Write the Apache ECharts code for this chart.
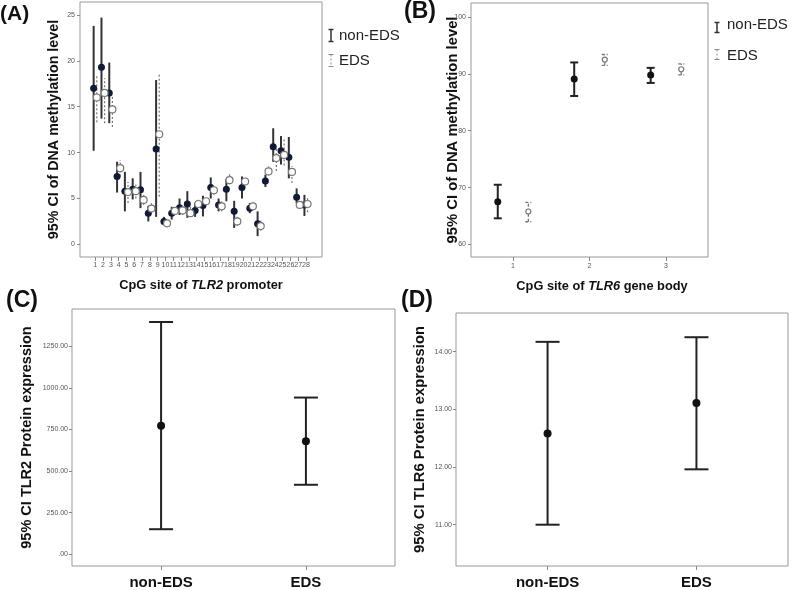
<!DOCTYPE html>
<html><head><meta charset="utf-8">
<script src="https://cdn.jsdelivr.net/npm/echarts@6/dist/echarts.min.js"></script>
<style>html,body{margin:0;padding:0;background:#fff}#c{width:800px;height:590px}</style>
</head><body><div id="c"></div>
<script>
// ---------- Panel A: CpG sites of TLR2 promoter ----------
const sitesA = [1,2,3,4,5,6,7,8,9,10,11,12,13,14,15,16,17,18,19,20,21,22,23,24,25,26,27,28];
const aNonMean = [17.0,19.3,16.5,7.4,5.8,6.0,5.95,3.4,10.4,2.5,3.4,4.0,4.4,3.7,4.25,6.2,4.3,6.0,3.6,6.2,3.95,2.25,6.9,10.65,10.2,9.5,5.15,4.3];
const aNonLow  = [10.2,13.7,13.2,5.65,3.6,4.9,3.95,2.5,3.0,2.1,2.7,3.2,2.9,3.0,3.05,5.0,3.6,4.7,1.8,5.0,3.4,0.9,6.25,9.0,8.7,7.2,4.5,3.1];
const aNonHigh = [23.8,24.7,19.8,9.0,7.9,7.2,7.9,4.2,17.9,3.0,4.1,5.0,5.8,4.5,5.3,7.3,5.0,7.1,4.75,7.4,4.5,3.6,7.6,12.65,11.8,11.7,6.1,5.4];
const aEdsMean = [16.0,16.5,14.7,8.3,5.7,5.8,4.85,3.9,12.0,2.3,3.65,3.7,3.4,4.4,4.7,5.9,4.15,7.0,2.5,6.85,4.15,2.0,7.95,9.4,9.75,7.9,4.3,4.4];
const aEdsLow  = [13.3,13.2,12.8,7.4,4.5,5.0,4.3,3.4,5.2,2.1,3.2,3.2,3.0,4.0,4.3,5.4,3.6,6.55,2.0,6.5,3.8,1.5,7.5,8.0,8.6,6.7,3.95,3.5];
const aEdsHigh = [18.5,18.1,16.3,9.2,6.8,6.6,5.4,4.5,18.6,2.5,3.95,4.2,4.1,4.9,5.0,6.3,4.7,7.65,3.0,7.3,4.7,2.6,8.5,10.6,11.6,8.5,4.8,5.2];
const ticksA = [0,5,10,15,20,25];

// ---------- Panel B: CpG sites of TLR6 gene body ----------
const sitesB = [1,2,3];
const bNonMean = [67.5,89.1,89.8];
const bNonLow  = [64.6,86.1,88.4];
const bNonHigh = [70.5,92.0,91.05];
const bEdsMean = [65.8,92.5,90.8];
const bEdsLow  = [64.0,91.5,89.8];
const bEdsHigh = [67.4,93.4,91.75];
const ticksB = [60,70,80,90,100];

// ---------- Panels C, D: protein expression ----------
const groups = ['non-EDS','EDS'];
const cMean = [773,679];
const cLow  = [151,418];
const cHigh = [1396,942];
const ticksC = [0,250,500,750,1000,1250];
const dMean = [12.58,13.11];
const dLow  = [11.0,11.96];
const dHigh = [14.17,14.25];
const ticksD = [11,12,13,14];

const FONT = 'Liberation Sans, Arial, sans-serif';
const OFF = 0.2;

function errRender(capHalf, style) {
  return function (params, api) {
    const x = api.value(0), lo = api.value(1), hi = api.value(2);
    const a = api.coord([x, lo]), b = api.coord([x, hi]);
    const ch = [{type:'line', shape:{x1:a[0],y1:a[1],x2:b[0],y2:b[1]}, style:style}];
    if (capHalf > 0) {
      ch.push({type:'line', shape:{x1:a[0]-capHalf,y1:a[1],x2:a[0]+capHalf,y2:a[1]}, style:style});
      ch.push({type:'line', shape:{x1:b[0]-capHalf,y1:b[1],x2:b[0]+capHalf,y2:b[1]}, style:style});
    }
    return {type:'group', children:ch};
  };
}
function zipErr(xs, lo, hi, off) { return xs.map((x,i)=>[x+off, lo[i], hi[i]]); }
function zipPt(xs, m, off) { return xs.map((x,i)=>[x+off, m[i]]); }

const tickLabel = {fontSize:7, color:'#555', fontFamily:FONT};
const nameStyle = {fontSize:13, fontWeight:'bold', color:'#111', fontFamily:FONT};
const gridBase = {show:true, borderColor:'#999', borderWidth:1, backgroundColor:'#fff'};

function yAx(gi, min, max, ticks, fmt, name, gap, margin, fs) {
  return {type:'value', gridIndex:gi, min:min, max:max,
    axisLine:{show:false, onZero:false}, splitLine:{show:false},
    axisTick:{show:true, customValues:ticks, length:3, lineStyle:{color:'#888'}},
    axisLabel:{customValues:ticks, formatter:fmt, margin:margin, ...tickLabel},
    name:name, nameLocation:'middle', nameRotate:90, nameGap:gap, nameMoveOverlap:false,
    nameTextStyle:{...nameStyle, fontSize:fs}};
}
function xAx(gi, min, max, ticks, lab, extra) {
  return Object.assign({type:'value', gridIndex:gi, min:min, max:max,
    axisLine:{show:false, onZero:false}, splitLine:{show:false},
    axisTick:{show:true, customValues:ticks, length:4, lineStyle:{color:'#888'}},
    axisLabel:Object.assign({customValues:ticks}, lab), nameMoveOverlap:false}, extra || {});
}
const richName = {rich:{b:{...nameStyle, fontSize:12.8}, i:{...nameStyle, fontSize:12.8, fontStyle:'italic'}}};
const groupLab = {formatter:v=>groups[v-1], margin:9, fontSize:15, fontWeight:'bold', color:'#111', fontFamily:FONT};
const titleStyle = fs => ({fontSize:fs, fontWeight:'bold', color:'#111', fontFamily:FONT});

const option = {
  animation:false,
  backgroundColor:'#fff',
  title:[
    {text:'(A)', left:0, top:4, padding:0, textStyle:titleStyle(21)},
    {text:'(B)', left:404, top:0, padding:0, textStyle:titleStyle(23)},
    {text:'(C)', left:6, top:289, padding:0, textStyle:titleStyle(23)},
    {text:'(D)', left:401, top:289, padding:0, textStyle:titleStyle(23)}
  ],
  grid:[
    {left:80, top:2, width:242, height:255, ...gridBase},
    {left:471, top:3, width:237, height:254, ...gridBase},
    {left:72, top:309, width:323, height:257, ...gridBase},
    {left:456, top:313, width:332, height:255, ...gridBase}
  ],
  xAxis:[
    xAx(0, -0.95, 30.05, sitesA, {margin:5, ...tickLabel},
      {name:'{b|CpG site of }{i|TLR2}{b| promoter}', nameLocation:'middle', nameGap:22, nameTextStyle:richName}),
    xAx(1, 0.45, 3.55, sitesB, {margin:6, ...tickLabel},
      {name:'{b|CpG site of }{i|TLR6}{b| gene body}', nameLocation:'middle', nameGap:23,
       nameTextStyle:{...richName, padding:[0,0,0,25]}}),
    xAx(2, 0.385, 2.615, [1,2], groupLab),
    xAx(3, 0.385, 2.615, [1,2], groupLab)
  ],
  yAxis:[
    yAx(0, -1.37, 26.4, ticksA, v=>String(v), '95% CI of DNA methylation level', 19, 5, 14.3),
    yAx(1, 57.8, 102.45, ticksB, v=>String(v), '95% CI of DNA methylation level', 11, 5, 14.8),
    yAx(2, -70, 1474, ticksC, v=>v===0?'.00':v.toFixed(2), '95% CI TLR2 Protein expression', 38, 4, 14.5),
    yAx(3, 10.284, 14.67, ticksD, v=>v.toFixed(2), '95% CI TLR6 Protein expression', 29, 4, 14.8)
  ],
  series:[
    // A
    {type:'custom', xAxisIndex:0, yAxisIndex:0, encode:{x:0,y:[1,2]}, z:2,
     renderItem:errRender(0, {stroke:'#333', lineWidth:2}), data:zipErr(sitesA,aNonLow,aNonHigh,-OFF)},
    {type:'custom', xAxisIndex:0, yAxisIndex:0, encode:{x:0,y:[1,2]}, z:2,
     renderItem:errRender(0, {stroke:'#777', lineWidth:1.2, lineDash:[2,2]}), data:zipErr(sitesA,aEdsLow,aEdsHigh,OFF)},
    {type:'scatter', xAxisIndex:0, yAxisIndex:0, z:3, symbol:'circle', symbolSize:7,
     itemStyle:{color:'#111a35', opacity:1}, data:zipPt(sitesA,aNonMean,-OFF)},
    {type:'scatter', xAxisIndex:0, yAxisIndex:0, z:3, symbol:'circle', symbolSize:7,
     itemStyle:{color:'#fff', borderColor:'#777', borderWidth:1.2, opacity:1}, data:zipPt(sitesA,aEdsMean,OFF)},
    // B
    {type:'custom', xAxisIndex:1, yAxisIndex:1, encode:{x:0,y:[1,2]}, z:2,
     renderItem:errRender(4, {stroke:'#222', lineWidth:2}), data:zipErr(sitesB,bNonLow,bNonHigh,-OFF)},
    {type:'custom', xAxisIndex:1, yAxisIndex:1, encode:{x:0,y:[1,2]}, z:2,
     renderItem:errRender(3, {stroke:'#777', lineWidth:1.3, lineDash:[3,2]}), data:zipErr(sitesB,bEdsLow,bEdsHigh,OFF)},
    {type:'scatter', xAxisIndex:1, yAxisIndex:1, z:3, symbol:'circle', symbolSize:7,
     itemStyle:{color:'#111', opacity:1}, data:zipPt(sitesB,bNonMean,-OFF)},
    {type:'scatter', xAxisIndex:1, yAxisIndex:1, z:3, symbol:'circle', symbolSize:5,
     itemStyle:{color:'#fff', borderColor:'#777', borderWidth:1.2, opacity:1}, data:zipPt(sitesB,bEdsMean,OFF)},
    // C
    {type:'custom', xAxisIndex:2, yAxisIndex:2, encode:{x:0,y:[1,2]}, z:2,
     renderItem:errRender(12, {stroke:'#222', lineWidth:2}), data:zipErr([1,2],cLow,cHigh,0)},
    {type:'scatter', xAxisIndex:2, yAxisIndex:2, z:3, symbol:'circle', symbolSize:8,
     itemStyle:{color:'#111', opacity:1}, data:zipPt([1,2],cMean,0)},
    // D
    {type:'custom', xAxisIndex:3, yAxisIndex:3, encode:{x:0,y:[1,2]}, z:2,
     renderItem:errRender(12, {stroke:'#222', lineWidth:2}), data:zipErr([1,2],dLow,dHigh,0)},
    {type:'scatter', xAxisIndex:3, yAxisIndex:3, z:3, symbol:'circle', symbolSize:8,
     itemStyle:{color:'#111', opacity:1}, data:zipPt([1,2],dMean,0)}
  ],
  graphic:[
    // Legend A
    {type:'group', left:326, top:27, children:[
      {type:'line', shape:{x1:3,y1:0,x2:3,y2:12}, style:{stroke:'#333', lineWidth:1.5}},
      {type:'line', shape:{x1:0.5,y1:0,x2:5.5,y2:0}, style:{stroke:'#333', lineWidth:1.5}},
      {type:'line', shape:{x1:0.5,y1:12,x2:5.5,y2:12}, style:{stroke:'#333', lineWidth:1.5}}
    ]},
    {type:'text', left:339, top:28, style:{text:'non-EDS', fontSize:15, fill:'#222', fontFamily:FONT}},
    {type:'group', left:326, top:52, children:[
      {type:'line', shape:{x1:3,y1:0,x2:3,y2:12}, style:{stroke:'#888', lineWidth:1, lineDash:[2,2]}},
      {type:'line', shape:{x1:0.5,y1:0,x2:5.5,y2:0}, style:{stroke:'#888', lineWidth:1}},
      {type:'line', shape:{x1:0.5,y1:12,x2:5.5,y2:12}, style:{stroke:'#888', lineWidth:1}}
    ]},
    {type:'text', left:339, top:53, style:{text:'EDS', fontSize:15, fill:'#222', fontFamily:FONT}},
    // Legend B
    {type:'group', left:712, top:20, children:[
      {type:'line', shape:{x1:3,y1:0,x2:3,y2:10}, style:{stroke:'#333', lineWidth:1.5}},
      {type:'line', shape:{x1:0.5,y1:0,x2:5.5,y2:0}, style:{stroke:'#333', lineWidth:1.5}},
      {type:'line', shape:{x1:0.5,y1:10,x2:5.5,y2:10}, style:{stroke:'#333', lineWidth:1.5}}
    ]},
    {type:'text', left:727, top:17, style:{text:'non-EDS', fontSize:15, fill:'#222', fontFamily:FONT}},
    {type:'group', left:712, top:47, children:[
      {type:'line', shape:{x1:3,y1:0,x2:3,y2:10}, style:{stroke:'#888', lineWidth:1, lineDash:[2,2]}},
      {type:'line', shape:{x1:0.5,y1:0,x2:5.5,y2:0}, style:{stroke:'#888', lineWidth:1}},
      {type:'line', shape:{x1:0.5,y1:10,x2:5.5,y2:10}, style:{stroke:'#888', lineWidth:1}}
    ]},
    {type:'text', left:727, top:48, style:{text:'EDS', fontSize:15, fill:'#222', fontFamily:FONT}}
  ]
};
const chart = echarts.init(document.getElementById('c'), null, {renderer:'canvas'});
chart.setOption(option);
</script>
</body></html>
